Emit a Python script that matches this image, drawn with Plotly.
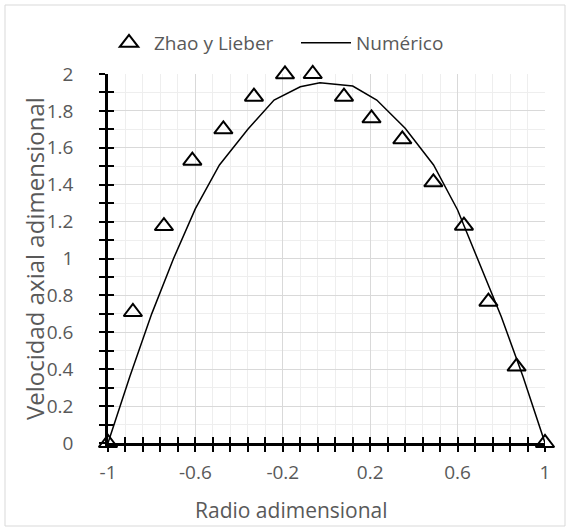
import plotly.graph_objects as go

# Experimental data (Zhao y Lieber)
radio_exp = [-1, -0.886, -0.744, -0.614, -0.472, -0.332, -0.19, -0.063,
             0.08, 0.206, 0.347, 0.489, 0.629, 0.741, 0.870, 1]
vel_exp = [0, 0.71, 1.176, 1.53, 1.70, 1.877, 1.998, 2.0,
           1.877, 1.76, 1.646, 1.413, 1.178, 0.766, 0.414, 0]

# Numerical profile
radio_num = [-1, -0.9, -0.8, -0.7, -0.6, -0.49, -0.36, -0.24, -0.12, -0.03,
             0.12, 0.23, 0.36, 0.49, 0.6, 0.7, 0.8, 0.9, 1]
vel_num = [0, 0.36, 0.70, 1.00, 1.27, 1.507, 1.70, 1.859, 1.931, 1.953,
           1.935, 1.859, 1.706, 1.507, 1.263, 0.974, 0.684, 0.358, 0]

x_ticks = [-1, -0.6, -0.2, 0.2, 0.6, 1]
x_ticktext = ["-1", "-0.6", "-0.2", "0.2", "0.6", "1"]
y_ticks = [0, 0.2, 0.4, 0.6, 0.8, 1, 1.2, 1.4, 1.6, 1.8, 2]
y_ticktext = ["0", "0.2", "0.4", "0.6", "0.8", "1", "1.2", "1.4", "1.6", "1.8", "2"]

FONT = "Open Sans"
GREY = "#595959"

# plot-area geometry (pixels)
W, H = 570, 531
L, R, T, B = 108, 25, 74, 88
pw, ph = W - L - R, H - T - B

def px_x(p):
    return (p - L) / pw

def px_y(p):
    return (H - B - p) / ph

fig = go.Figure()

fig.add_trace(go.Scatter(
    x=radio_exp, y=vel_exp, mode="markers", name="Zhao y Lieber",
    marker=dict(symbol="triangle-up-open", size=16, color="black",
                line=dict(width=2, color="black")),
    cliponaxis=False, legend="legend",
))
fig.add_trace(go.Scatter(
    x=radio_num, y=vel_num, mode="lines", name="Numérico",
    line=dict(color="black", width=1.5),
    xaxis="x2", yaxis="y2", cliponaxis=False, legend="legend2",
))

tick_common = dict(ticklen=6, tickwidth=2, tickcolor="black")
legend_font = dict(family=FONT, size=19, color=GREY)

fig.update_layout(
    width=W, height=H,
    margin=dict(l=L, r=R, t=T, b=B),
    paper_bgcolor="white", plot_bgcolor="white",
    font=dict(family=FONT, size=19, color=GREY),
    showlegend=True,
    legend=dict(orientation="h", x=px_x(104), xanchor="left",
                y=px_y(43), yanchor="middle", font=legend_font,
                itemwidth=40),
    legend2=dict(orientation="h", x=px_x(296), xanchor="left",
                 y=px_y(43), yanchor="middle", font=legend_font,
                 itemwidth=50),
    xaxis=dict(
        range=[-1, 1], tickvals=x_ticks, ticktext=x_ticktext,
        ticks="outside", **tick_common,
        showline=True, linecolor="black", linewidth=2.5,
        showgrid=True, gridcolor="#d9d9d9", gridwidth=1,
        minor=dict(dtick=0.08, tick0=-1, ticks="outside", ticklen=6,
                   tickwidth=2, tickcolor="black",
                   showgrid=True, gridcolor="#eeeeee", gridwidth=1),
        zeroline=False, ticklabelstandoff=4,
        tickfont=dict(family=FONT, size=19, color=GREY),
    ),
    yaxis=dict(
        range=[0, 2], tickvals=y_ticks, ticktext=y_ticktext,
        ticks="outside", **tick_common,
        showline=True, linecolor="black", linewidth=2.5,
        showgrid=True, gridcolor="#d9d9d9", gridwidth=1,
        minor=dict(dtick=0.1, tick0=0, ticks="outside", ticklen=6,
                   tickwidth=2, tickcolor="black",
                   showgrid=True, gridcolor="#eeeeee", gridwidth=1),
        zeroline=False, ticklabelstandoff=22,
        tickfont=dict(family=FONT, size=19, color=GREY),
    ),
    # companion axes carrying the inner half of the crossing tick marks
    xaxis2=dict(
        range=[-1, 1], overlaying="x", anchor="y", side="bottom",
        tickvals=x_ticks, showticklabels=False, ticks="inside", **tick_common,
        minor=dict(dtick=0.08, tick0=-1, ticks="inside", ticklen=6,
                   tickwidth=2, tickcolor="black", showgrid=False),
        showgrid=False, zeroline=False, showline=False,
    ),
    yaxis2=dict(
        range=[0, 2], overlaying="y", anchor="x", side="left",
        tickvals=y_ticks, showticklabels=False, ticks="inside", **tick_common,
        minor=dict(dtick=0.1, tick0=0, ticks="inside", ticklen=6,
                   tickwidth=2, tickcolor="black", showgrid=False),
        showgrid=False, zeroline=False, showline=False,
    ),
    annotations=[
        dict(text="Radio adimensional", xref="paper", yref="paper",
             x=px_x(291), y=px_y(510), xanchor="center", yanchor="middle",
             showarrow=False, font=dict(family=FONT, size=21, color=GREY)),
        dict(text="Velocidad axial adimensional", xref="paper", yref="paper",
             x=px_x(34), y=px_y(259), xanchor="center", yanchor="middle",
             textangle=-90, showarrow=False,
             font=dict(family=FONT, size=24, color=GREY)),
    ],
    shapes=[
        dict(type="rect", xref="paper", yref="paper",
             x0=px_x(5), x1=px_x(565), y0=px_y(526), y1=px_y(5),
             line=dict(color="#d9d9d9", width=1), fillcolor="rgba(0,0,0,0)",
             layer="below"),
    ],
)

fig.write_html("out.html")
